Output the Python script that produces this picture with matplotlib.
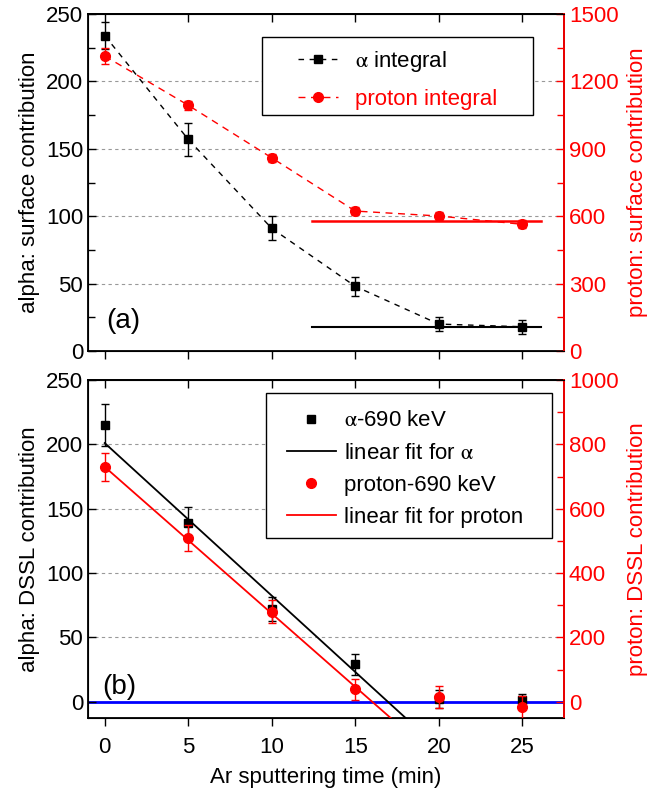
import numpy as np
import matplotlib
matplotlib.use('Agg')
import matplotlib.pyplot as plt
from matplotlib.patches import Rectangle

plt.rcParams['font.family'] = ['Liberation Sans', 'DejaVu Sans']
plt.rcParams['mathtext.fontset'] = 'stix'

# sputtering time (min)
t = [0, 5, 10, 15, 20, 25]

# (a) surface contribution
alpha_int = [234, 157, 91, 48, 20, 18]
alpha_int_err = [10, 12, 9, 7, 5, 5]
proton_int = [1313, 1094, 860, 623, 601, 564]
proton_int_err = [36, 20, 18, 18, 18, 18]
alpha_flat = 18       # saturation level, left axis
proton_flat = 580     # saturation level, right axis
flat_range = [12.4, 26.1]

# (b) DSSL contribution
alpha_690 = [215, 139, 72, 29, 2, 1]
alpha_690_err = [16, 12, 9, 8, 7, 5]
proton_690 = [730, 508, 280, 38, 14, -16]
proton_690_err = [44, 40, 36, 34, 35, 35]
alpha_fit = (201, -11.86)     # intercept, slope
proton_fit = (730, -45.6)

RED = '#ff0000'
fs = 16

fig = plt.figure(figsize=(6.51, 7.96), dpi=100)
ax1 = fig.add_axes([0.1352, 0.559, 0.7312, 0.4234])
ax2 = fig.add_axes([0.1352, 0.0983, 0.7312, 0.4243])


def style(ax, axr):
    for s in ax.spines.values():
        s.set_linewidth(1.3)
    axr.spines['right'].set_color(RED)
    axr.spines['right'].set_linewidth(1.3)
    ax.tick_params(axis='y', direction='in', length=6, width=1, labelsize=fs)
    ax.tick_params(axis='y', which='minor', direction='in', length=5, width=1)
    axr.tick_params(axis='y', direction='in', length=6, width=1, colors=RED, labelsize=fs)
    axr.tick_params(axis='y', which='minor', direction='in', length=5, width=1, colors=RED)
    ax.set_xlim(-1, 27.5)
    ax.set_xticks(t)
    top = ax.secondary_xaxis('top')
    top.set_xticks(t)
    top.tick_params(direction='in', length=6, width=1, labeltop=False)
    top.spines['top'].set_linewidth(1.3)


def legend_box(ax, x0, y0, x1, y1):
    ax.add_patch(Rectangle((x0, y0), x1 - x0, y1 - y0, transform=ax.transAxes,
                           facecolor='white', edgecolor='black', lw=1, zorder=4))


# ---- panel (a)
ax1r = ax1.twinx()
ax1.set_ylim(0, 250)
ax1r.set_ylim(0, 1500)
ax1.set_yticks([0, 50, 100, 150, 200, 250])
ax1.set_yticks(np.arange(25, 250, 50), minor=True)
ax1r.set_yticks([0, 300, 600, 900, 1200, 1500])
ax1r.set_yticks(np.arange(150, 1500, 300), minor=True)
for y in [50, 100, 150, 200]:
    ax1.axhline(y, color='#999999', ls=(0, (3, 3)), lw=0.8, zorder=0)
style(ax1, ax1r)
ax1.tick_params(axis='x', direction='out', length=6, width=1, labelbottom=False)

la, = ax1.plot(t, alpha_int, color='black', ls=(0, (4, 4)), lw=1, marker='s', ms=6,
               label=r'$\mathrm{\alpha}$ integral')
ax1.errorbar(t, alpha_int, yerr=alpha_int_err, fmt='none', ecolor='black', elinewidth=1, capsize=3)
ax1.plot(flat_range, [alpha_flat] * 2, color='black', lw=1.5)
lp, = ax1r.plot(t, proton_int, color=RED, ls=(0, (5, 4)), lw=1, marker='o', ms=7,
                label='proton integral')
ax1r.errorbar(t, proton_int, yerr=proton_int_err, fmt='none', ecolor=RED, elinewidth=1, capsize=3)
ax1r.plot(flat_range, [proton_flat] * 2, color=RED, lw=1.8)
ax1.text(0.1, 17, '(a)', fontsize=20)
ax1.set_ylabel('alpha: surface contribution', fontsize=fs, labelpad=4)
ax1r.set_ylabel('proton: surface contribution', fontsize=fs, color=RED, labelpad=6)
legend_box(ax1r, 0.3655, 0.700, 0.935, 0.932)
leg = ax1r.legend(handles=[la, lp], loc='upper left', bbox_to_anchor=(0.441, 0.896),
                  fontsize=fs, frameon=False, borderpad=0, borderaxespad=0,
                  handlelength=1.8, handletextpad=0.75, labelspacing=0.68)
leg.set_zorder(5)
leg.get_texts()[1].set_color(RED)

# ---- panel (b)
ax2r = ax2.twinx()
ax2.set_ylim(-12.5, 250)
ax2r.set_ylim(-50, 1000)
ax2.set_yticks([0, 50, 100, 150, 200, 250])
ax2r.set_yticks([0, 200, 400, 600, 800, 1000])
ax2r.set_yticks(np.arange(100, 1000, 200), minor=True)
for y in [50, 100, 150, 200]:
    ax2.axhline(y, color='#999999', ls=(0, (3, 3)), lw=0.8, zorder=0)
style(ax2, ax2r)
ax2.tick_params(axis='x', direction='out', length=6, width=1, labelsize=fs, pad=8)
ax2.axhline(0, color='#0000ff', lw=2, zorder=1)

xf = np.array([0, 20])
ha, = ax2.plot(t, alpha_690, 's', color='black', ms=6, label=r'$\mathrm{\alpha}$-690 keV', zorder=3)
ax2.errorbar(t, alpha_690, yerr=alpha_690_err, fmt='none', ecolor='black', elinewidth=1, capsize=3)
hfa, = ax2.plot(xf, alpha_fit[0] + alpha_fit[1] * xf, color='black', lw=1.3,
                label=r'linear fit for $\mathrm{\alpha}$')
hp, = ax2r.plot(t, proton_690, 'o', color=RED, ms=7, label='proton-690 keV', zorder=3)
ax2r.errorbar(t, proton_690, yerr=proton_690_err, fmt='none', ecolor=RED, elinewidth=1, capsize=3)
hfp, = ax2r.plot(xf, proton_fit[0] + proton_fit[1] * xf, color=RED, lw=1.3,
                 label='linear fit for proton')
ax2.text(-0.15, 6, '(b)', fontsize=20)
ax2.set_ylabel('alpha: DSSL contribution', fontsize=fs, labelpad=4)
ax2r.set_ylabel('proton: DSSL contribution', fontsize=fs, color=RED, labelpad=6)
ax2.set_xlabel('Ar sputtering time (min)', fontsize=fs, labelpad=6)
legend_box(ax2r, 0.374, 0.532, 0.975, 0.9615)
leg2 = ax2r.legend(handles=[ha, hfa, hp, hfp], loc='upper left', bbox_to_anchor=(0.418, 0.91),
                   fontsize=fs, frameon=False, borderpad=0, borderaxespad=0,
                   handlelength=2.2, handletextpad=0.36, labelspacing=0.5)
leg2.set_zorder(5)

fig.savefig('out.png', dpi=100)
